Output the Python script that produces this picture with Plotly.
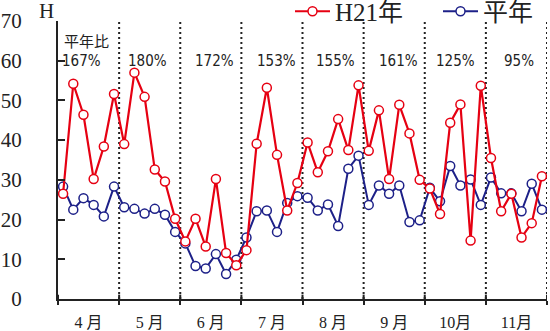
import plotly.graph_objects as go

months = ["4 月", "5 月", "6 月", "7 月", "8 月", "9 月", "10月", "11月"]
ratios = ["167%", "180%", "172%", "153%", "155%", "161%", "125%", "95%"]
y_ticks = [0, 10, 20, 30, 40, 50, 60, 70]

h21 = [26.5, 54.2, 46.4, 30.2, 38.4, 51.6,
       39.0, 57.0, 50.9, 32.6, 29.6, 20.2,
       14.5, 20.2, 13.2, 30.2, 11.6, 8.5,
       12.3, 39.1, 53.2, 36.3, 22.3, 29.2,
       39.4, 31.9, 37.2, 45.3, 37.5, 53.8,
       37.3, 47.5, 30.2, 48.9, 41.7, 30.0,
       27.8, 21.4, 44.4, 49.0, 14.7, 53.7,
       35.5, 22.1, 26.5, 15.5, 19.1, 30.9]
normal = [28.3, 22.5, 25.4, 23.7, 20.8, 28.3,
          23.1, 22.7, 21.5, 22.7, 21.2, 16.9,
          14.0, 8.3, 7.7, 11.3, 6.3, 9.9,
          15.5, 22.1, 22.3, 16.9, 24.2, 25.9,
          25.5, 22.3, 23.8, 18.4, 32.8, 36.1,
          23.7, 28.6, 26.5, 28.6, 19.4, 19.8,
          28.0, 24.6, 33.5, 28.6, 30.1, 23.7,
          30.6, 26.6, 26.6, 22.1, 29.0, 22.5]

PER_MONTH = 6
n = len(h21)
xs = [i + 0.5 for i in range(n)]
nm = len(months)
centers = [PER_MONTH * k + PER_MONTH / 2 for k in range(nm)]
bounds = [PER_MONTH * k for k in range(nm + 1)]

RED = "#e60012"
BLUE = "#1d2088"
SERIF = "Liberation Serif, Noto Sans CJK JP, serif"
NARROW = "DejaVu Sans Condensed, Liberation Sans Narrow, Liberation Sans, sans-serif"

fig = go.Figure()
fig.add_trace(go.Scatter(
    x=xs, y=normal, name="平年", mode="lines+markers", legend="legend2",
    line=dict(color=BLUE, width=2),
    marker=dict(symbol="circle", size=9, color="white", line=dict(color=BLUE, width=1.5)),
))
fig.add_trace(go.Scatter(
    x=xs, y=h21, name="H21年", mode="lines+markers", legend="legend",
    line=dict(color=RED, width=2.2),
    marker=dict(symbol="circle", size=9, color="white", line=dict(color=RED, width=1.5)),
))

shapes = []
for b in bounds[1:]:
    shapes.append(dict(type="line", xref="x", yref="y", x0=b, x1=b, y0=0, y1=70,
                       line=dict(color="#222", width=2, dash="2px,3px"), layer="below"))
for b in bounds:
    shapes.append(dict(type="line", xref="x", yref="y", x0=b, x1=b, y0=0, y1=1.1,
                       line=dict(color="#222", width=2)))

annotations = [dict(x=2.75, y=65.0, xref="x", yref="y", text="平年比", showarrow=False,
                    font=dict(family="Noto Sans CJK JP", size=15, color="#222"))]
offsets = [-0.65, -0.2, 0.4, 0.4, 0.2, 0.4, 0.0, 0.3]
for k, r in enumerate(ratios):
    annotations.append(dict(x=centers[k] + offsets[k], y=60.0 if k else 59.9, xref="x", yref="y",
                            text=r, showarrow=False,
                            font=dict(family=NARROW, size=15, color="#222")))
annotations.append(dict(x=(46 - 58) / 489, y=(298.5 - 11) / 277.5, xref="paper", yref="paper",
                        xanchor="center", yanchor="middle",
                        text="H", showarrow=False, font=dict(family=SERIF, size=21, color="#222")))

legend_common = dict(orientation="h", xanchor="left", yanchor="middle",
                     font=dict(family=SERIF, size=25, color="#222"),
                     bgcolor="rgba(0,0,0,0)", itemwidth=35)

fig.update_layout(
    width=550, height=331,
    margin=dict(l=58, r=3, t=21, b=32, autoexpand=False),
    paper_bgcolor="white", plot_bgcolor="white",
    showlegend=True,
    legend=dict(x=(290 - 58) / 489, y=(298.5 - 11.5) / 277.5, **legend_common),
    legend2=dict(x=(438 - 58) / 489, y=(298.5 - 11.5) / 277.5, **legend_common),
    shapes=shapes,
    annotations=annotations,
    xaxis=dict(range=[0, n], tickvals=centers, ticktext=months, ticks="",
               showgrid=False, zeroline=False, showline=True, linecolor="#222", linewidth=2,
               tickfont=dict(family=SERIF, size=16, color="#222"), ticklabelstandoff=8,
               minor=dict(tickvals=bounds, ticks="outside", ticklen=4, tickcolor="#222",
                          tickwidth=2, showgrid=False)),
    yaxis=dict(range=[0, 70], tickvals=y_ticks, ticks="inside", ticklen=7, tickwidth=2,
               tickcolor="#222", showgrid=False, zeroline=False, showline=True,
               linecolor="#222", linewidth=2,
               tickfont=dict(family=SERIF, size=21, color="#222"), ticklabelstandoff=30),
)

fig.write_html("out.html", config={"displayModeBar": False},
               post_script="document.body.style.margin='0';document.body.style.overflow='hidden';")
